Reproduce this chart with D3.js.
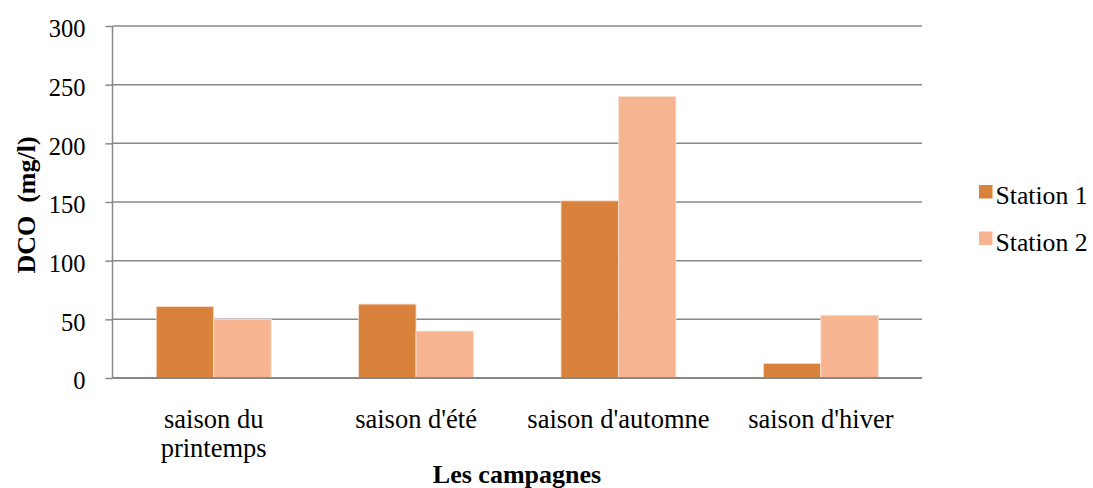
<!DOCTYPE html>
<html><head><meta charset="utf-8">
<script src="https://cdn.jsdelivr.net/npm/d3@7"></script>
<style>body{margin:0;background:#fff}svg{display:block}text{font-family:"Liberation Serif","Times New Roman",serif;fill:#000}</style>
</head><body><svg id="c" width="1093" height="488"></svg>
<script>
const categories = ["saison du\nprintemps", "saison d'été", "saison d'automne", "saison d'hiver"];
const seriesNames = ["Station 1", "Station 2"];
const station1 = [61, 63, 151, 12.5];
const station2 = [50, 40, 240, 53.5];
const yTicks = [0, 50, 100, 150, 200, 250, 300];
const colors = ["#D9823B", "#F7B491"];

(function () {
const svg = d3.select("#c");
const mLeft = 112.5, mRight = 922, mTop = 26, mBottom = 378;
const x = d3.scaleBand().domain(categories).range([mLeft, mRight]).paddingInner(0.432).paddingOuter(0.216);
const x1 = d3.scaleBand().domain(seriesNames).range([0, x.bandwidth()]);
const y = d3.scaleLinear().domain([0, 300]).range([mBottom, mTop]);

const gAxis = svg.append("g").attr("transform", `translate(${mLeft},0)`)
  .call(d3.axisLeft(y).tickValues(yTicks).tickSize(7).tickPadding(20).tickFormat(d3.format("d")));
gAxis.select(".domain").remove();
gAxis.selectAll("line").attr("stroke", "#888").attr("stroke-width", 1.5);
gAxis.selectAll("text").attr("font-size", 24.5).attr("dy", "0.44em").attr("fill", "#000");
svg.append("g").selectAll("line").data(yTicks).join("line")
  .attr("x1", mLeft).attr("x2", mRight).attr("y1", d => y(d)).attr("y2", d => y(d))
  .attr("stroke", "#888").attr("stroke-width", 1.5);

const data = categories.map((c, i) => ({c, vals: [station1[i], station2[i]]}));
svg.append("g").selectAll("g").data(data).join("g")
  .attr("transform", d => `translate(${x(d.c)},0)`)
  .selectAll("rect").data(d => d.vals.map((v, j) => ({v, s: seriesNames[j], j})))
  .join("rect")
  .attr("x", d => x1(d.s)).attr("width", x1.bandwidth())
  .attr("y", d => y(d.v)).attr("height", d => y(0) - y(d.v))
  .attr("fill", d => colors[d.j]).attr("stroke", "#fbe3d4").attr("stroke-width", 0.8);

svg.append("line").attr("x1", mLeft).attr("x2", mLeft).attr("y1", mTop).attr("y2", mBottom).attr("stroke", "#888").attr("stroke-width", 1.5);
svg.append("line").attr("x1", mLeft).attr("x2", mRight).attr("y1", mBottom).attr("y2", mBottom).attr("stroke", "#888").attr("stroke-width", 2);

const xl = svg.append("g").selectAll("text").data(categories).join("text")
  .attr("x", d => x(d) + x.bandwidth() / 2).attr("y", 428)
  .attr("text-anchor", "middle").attr("font-size", 26.5);
xl.each(function(d) {
  const t = d3.select(this);
  d.split("\n").forEach((line, i) => t.append("tspan").attr("x", x(d) + x.bandwidth() / 2).attr("dy", i ? 28.5 : 0).text(line));
});

svg.append("text").attr("x", 517).attr("y", 483).attr("text-anchor", "middle").attr("font-size", 26).attr("font-weight", "bold").text("Les campagnes");
svg.append("text").attr("transform", "translate(35,205) rotate(-90)").attr("text-anchor", "middle").attr("font-size", 26).attr("font-weight", "bold").style("white-space", "pre").text("DCO  (mg/l)");

const lg = svg.append("g").selectAll("g").data(seriesNames).join("g")
  .attr("transform", (d, i) => `translate(979,${185 + i * 46.5})`);
lg.append("rect").attr("width", 13.5).attr("height", 13.5).attr("fill", (d, i) => colors[i]);
lg.append("text").attr("x", 16.5).attr("y", 19).attr("font-size", 25.7).text(d => d);
})();
</script></body></html>
